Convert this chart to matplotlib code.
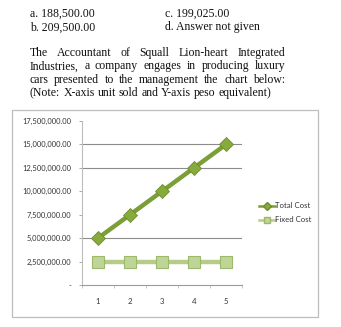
import matplotlib
matplotlib.use('Agg')
import matplotlib.pyplot as plt
from matplotlib.lines import Line2D
from matplotlib.patches import Rectangle
from matplotlib.ticker import FuncFormatter, FixedLocator

# datos del grafico
unidades = [1, 2, 3, 4, 5]
costo_total = [5000000, 7500000, 10000000, 12500000, 15000000]
costo_fijo = [2500000, 2500000, 2500000, 2500000, 2500000]
ticks_y = [0, 2500000, 5000000, 7500000, 10000000, 12500000, 15000000, 17500000]
lineas_guia = [5000000, 12500000, 15000000]

opciones = [('a. 188,500.00', 'c. 199,025.00'),
            ('b. 209,500.00', 'd. Answer not given')]
parrafo = ['The Accountant of Squall Lion-heart Integrated',
           'Industries, a company engages in producing luxury',
           'cars presented to the management the chart below:',
           '(Note: X-axis unit sold and Y-axis peso equivalent)']

W, H = 341, 327
fig = plt.figure(figsize=(W / 100, H / 100), dpi=100)
fig.patch.set_facecolor('white')

def px(x, y):
    return x / W, 1 - y / H

serif = 'Liberation Serif'
tam = 8.5
for i, (izq, der) in enumerate(opciones):
    yb = 16.5 + i * 13.8
    fig.text(*px(30, yb), izq, fontsize=tam, family=serif, va='baseline', color='#111111')
    fig.text(*px(165, yb), der, fontsize=tam, family=serif, va='baseline', color='#111111')

# parrafo justificado: se mide cada palabra y se reparte el espacio sobrante
renderer = fig.canvas.get_renderer()
x0, x1 = 30, 285
for i, linea in enumerate(parrafo):
    yb = 56 + i * 13.3
    palabras = linea.split()
    textos = [fig.text(0, 0, p, fontsize=tam, family=serif, va='baseline', color='#111111')
              for p in palabras]
    anchos = [t.get_window_extent(renderer).width for t in textos]
    if i < len(parrafo) - 1:
        hueco = (x1 - x0 - sum(anchos)) / (len(palabras) - 1)
    else:
        hueco = 3.0
    x = x0
    for t, a in zip(textos, anchos):
        t.set_position(px(x, yb))
        x += a + hueco

# marco del grafico
fig.add_artist(Rectangle(px(12, 317), 306 / W, 207 / H, transform=fig.transFigure,
                         fill=False, edgecolor='#BDBDBD', lw=0.9))

izq, der, arr, aba = 82, 242, 121, 285
ax = fig.add_axes([izq / W, 1 - aba / H, (der - izq) / W, (aba - arr) / H])
ax.set_facecolor('none')

for g in lineas_guia:
    ax.axhline(g, color='#8C8C8C', lw=0.8, zorder=1)

ax.plot(unidades, costo_fijo, color='#B5CC8A', lw=3.2, marker='s', markersize=9.2,
        markerfacecolor='#BFD596', markeredgecolor='#9DB86C', markeredgewidth=0.8,
        zorder=3)
ax.plot(unidades, costo_total, color='#7C9E36', lw=3.2, marker='D', markersize=7.6,
        markerfacecolor='#86AA3C', markeredgecolor='#6E8E2E', markeredgewidth=0.6,
        zorder=4)

ax.set_xlim(0.5, 5.5)
ax.set_ylim(0, 17500000)
ax.yaxis.set_major_locator(FixedLocator(ticks_y))
ax.yaxis.set_major_formatter(FuncFormatter(lambda v, p: '-' if v == 0 else f'{v:,.2f}'))
ax.set_xticks(unidades)
ax.set_xticks([u + 0.5 for u in [0] + unidades], minor=True)

for lado in ['top', 'right']:
    ax.spines[lado].set_visible(False)
ax.spines['left'].set_color('#BDBDBD')
ax.spines['bottom'].set_color('#9A9A9A')
ax.spines['left'].set_linewidth(0.8)
ax.spines['bottom'].set_linewidth(0.8)

ax.tick_params(axis='y', length=2.5, width=0.6, color='#9A9A9A', pad=5,
               labelsize=5.4, labelcolor='#333333')
ax.tick_params(axis='x', which='major', length=0, pad=9, labelsize=5.6,
               labelcolor='#333333')
ax.tick_params(axis='x', which='minor', length=2.5, width=0.6, color='#BDBDBD')
for t in ax.get_xticklabels() + ax.get_yticklabels():
    t.set_family('Lato')

# leyenda
manejadores = [
    Line2D([], [], color='#7C9E36', lw=1.8, marker='D', markersize=3.6,
           markerfacecolor='#86AA3C', markeredgecolor='#6E8E2E'),
    Line2D([], [], color='#B5CC8A', lw=1.8, marker='s', markersize=4.2,
           markerfacecolor='#BFD596', markeredgecolor='#9DB86C'),
]
fig.legend(manejadores, ['Total Cost', 'Fixed Cost'], loc='center left',
           bbox_to_anchor=px(252, 213), frameon=False, handlelength=2.0,
           handletextpad=0.1, labelspacing=0.9,
           prop={'family': 'Lato', 'size': 5.6}, labelcolor='#333333')

fig.savefig('out.png', dpi=100, facecolor='white')
